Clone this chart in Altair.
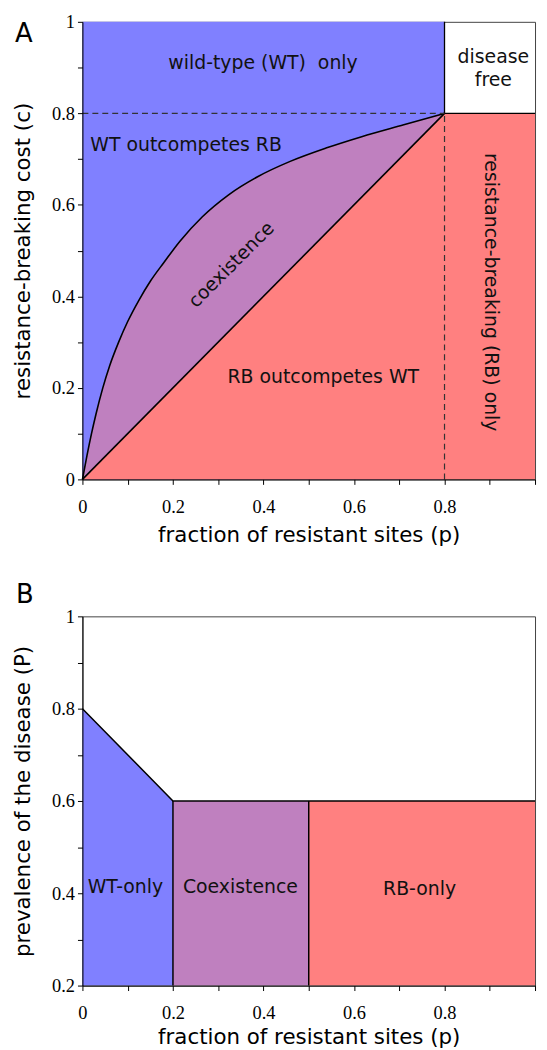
import altair as alt
import pandas as pd

# ---------------- Panel A data ----------------
curve_p = [0, 0.01, 0.02, 0.03, 0.045, 0.06, 0.08, 0.10, 0.125, 0.15, 0.18, 0.215,
           0.265, 0.323, 0.388, 0.459, 0.538, 0.617, 0.71, 0.8]
curve_c = [0, 0.052, 0.100, 0.143, 0.200, 0.248, 0.300, 0.345, 0.392, 0.433, 0.474, 0.520,
           0.574, 0.622, 0.662, 0.695, 0.724, 0.749, 0.775, 0.8]

wt_rect_p = [0.0, 0.8]
wt_rect_c = [0.0, 1.0]

red_p = [0.0, 0.8, 1.0]
red_c = [0.0, 0.8, 0.8]

diag_p = [0.0, 0.8]
diag_c = [0.0, 0.8]

free_p = [0.8, 0.8, 1.0]
free_c = [1.0, 0.8, 0.8]

dash_h_p = [0.0, 0.8]
dash_h_c = [0.8, 0.8]
dash_v_p = [0.8, 0.8]
dash_v_c = [0.0, 0.8]

labels_a = ["wild-type (WT)\u00a0 only", "disease\nfree", "WT outcompetes RB", "RB outcompetes WT"]
labels_a_p = [0.399, 0.908, 0.229, 0.532]
labels_a_c = [0.909, 0.924, 0.731, 0.224]

coex_label = ["coexistence"]
coex_label_p = [0.329]
coex_label_c = [0.469]

rb_label = ["resistance-breaking (RB) only"]
rb_label_p = [0.902]
rb_label_c = [0.409]

# ---------------- Panel B data ----------------
wtb_p = [0.0, 0.2]
wtb_P = [0.8, 0.6]
coexb_p = [0.2, 0.5]
coexb_P = [0.2, 0.6]
rbb_p = [0.5, 1.0]
rbb_P = [0.2, 0.6]
bound_p = [0.0, 0.2, 1.0]
bound_P = [0.8, 0.6, 0.6]
vlines_p = [0.2, 0.5]
vlines_P0 = [0.2, 0.2]
vlines_P1 = [0.6, 0.6]

labels_b = ["WT-only", "Coexistence", "RB-only"]
labels_b_p = [0.095, 0.349, 0.745]
labels_b_P = [0.413, 0.413, 0.41]

panel_letters = ["A", "B"]

ticks = [0.0, 0.1, 0.2, 0.3, 0.4, 0.5, 0.6, 0.7, 0.8, 0.9, 1.0]
ticks_b = [0.2, 0.3, 0.4, 0.5, 0.6, 0.7, 0.8, 0.9, 1.0]

BLUE = "#8080FF"
PURPLE = "#BF80BF"
RED = "#FF8080"
TXT = "DejaVu Sans"
TXT_SIZE = 19

y_label_expr = "round(datum.value*10) % 2 == 1 ? '' : format(datum.value, '~g')"
x_label_expr = "(round(datum.value*10) % 2 == 1 || datum.value >= 1) ? '' : format(datum.value, '~g')"

xaxis_a = alt.Axis(values=ticks, labelExpr=x_label_expr, title="fraction of resistant sites (p)",
                   labelPadding=13, titlePadding=9, zindex=1, labelFlush=False)
xaxis_b = alt.Axis(values=ticks, labelExpr=x_label_expr, title="fraction of resistant sites (p)",
                   labelPadding=13, titlePadding=5, zindex=1, labelFlush=False)
yaxis_a = alt.Axis(values=ticks, labelExpr=y_label_expr, title="resistance-breaking cost (c)",
                   labelPadding=3, titlePadding=17, zindex=1, labelFlush=False)
yaxis_b = alt.Axis(values=ticks_b, labelExpr=y_label_expr, title="prevalence of the disease (P)",
                   labelPadding=3, titlePadding=17, zindex=1, labelFlush=False)

xs = alt.Scale(domain=[0, 1], nice=False, zero=False)
ys_a = alt.Scale(domain=[0, 1], nice=False, zero=False)
ys_b = alt.Scale(domain=[0.2, 1], nice=False, zero=False)

W = 456
LEFT_EDGE = -73.6   # keeps a little room left of the rotated axis titles


def XA(f="p"):
    return alt.X(f, type="quantitative", scale=xs, axis=xaxis_a)


def XB(f="p"):
    return alt.X(f, type="quantitative", scale=xs, axis=xaxis_b)


def YA(f="c"):
    return alt.Y(f, type="quantitative", scale=ys_a, axis=yaxis_a)


def YB(f="P"):
    return alt.Y(f, type="quantitative", scale=ys_b, axis=yaxis_b)


def letter(i, dx, dy):
    df = pd.DataFrame({"t": [panel_letters[i]]})
    return alt.Chart(df).mark_text(font=TXT, fontSize=26, color="black", align="left",
                                   baseline="alphabetic").encode(
        text="t:N", x=alt.value(dx), y=alt.value(dy))


def spacer():
    return alt.Chart(pd.DataFrame({"t": [0]})).mark_rule(opacity=0, strokeWidth=0).encode(
        x=alt.value(LEFT_EDGE), y=alt.value(100), y2=alt.value(101))


# ---------------- Panel A ----------------
df_wt = pd.DataFrame({"p": [wt_rect_p[0]], "p2": [wt_rect_p[1]], "c": [wt_rect_c[0]], "c2": [wt_rect_c[1]]})
blue = alt.Chart(df_wt).mark_rect(color=BLUE).encode(x=XA(), x2="p2:Q", y=YA(), y2="c2:Q")

df_curve = pd.DataFrame({"p": curve_p, "c": curve_c, "base": [0.0] * len(curve_p)})
purple = alt.Chart(df_curve).mark_area(color=PURPLE, interpolate="monotone", opacity=1).encode(
    x=XA(), y=YA(), y2="base:Q")

df_red = pd.DataFrame({"p": red_p, "c": red_c, "base": [0.0] * len(red_p)})
red = alt.Chart(df_red).mark_area(color=RED, opacity=1).encode(x=XA(), y=YA(), y2="base:Q")

curve_line = alt.Chart(df_curve).mark_line(color="black", strokeWidth=1.6, interpolate="monotone").encode(
    x=XA(), y=YA())

df_diag = pd.DataFrame({"p": diag_p, "c": diag_c})
diag_line = alt.Chart(df_diag).mark_line(color="black", strokeWidth=1.6).encode(x=XA(), y=YA())

df_free = pd.DataFrame({"p": free_p, "c": free_c, "o": list(range(len(free_p)))})
free_line = alt.Chart(df_free).mark_line(color="black", strokeWidth=1.3).encode(
    x=XA(), y=YA(), order="o:Q")

df_dh = pd.DataFrame({"p": dash_h_p, "c": dash_h_c})
df_dv = pd.DataFrame({"p": dash_v_p, "c": dash_v_c})
dash_h = alt.Chart(df_dh).mark_line(color="#333333", strokeWidth=1.2, strokeDash=[6, 4]).encode(x=XA(), y=YA())
dash_v = alt.Chart(df_dv).mark_line(color="#333333", strokeWidth=1.2, strokeDash=[6, 4]).encode(x=XA(), y=YA())

df_la = pd.DataFrame({"p": labels_a_p, "c": labels_a_c, "t": labels_a})
text_a = alt.Chart(df_la).mark_text(font=TXT, fontSize=TXT_SIZE, color="#111111", lineBreak="\n",
                                    lineHeight=24, baseline="middle").encode(x=XA(), y=YA(), text="t:N")

df_coex = pd.DataFrame({"p": coex_label_p, "c": coex_label_c, "t": coex_label})
text_coex = alt.Chart(df_coex).mark_text(font=TXT, fontSize=TXT_SIZE, color="#111111", angle=315,
                                         baseline="middle").encode(x=XA(), y=YA(), text="t:N")

df_rb = pd.DataFrame({"p": rb_label_p, "c": rb_label_c, "t": rb_label})
text_rb = alt.Chart(df_rb).mark_text(font=TXT, fontSize=TXT_SIZE, color="#111111", angle=90,
                                     baseline="middle").encode(x=XA(), y=YA(), text="t:N")

panel_a = alt.layer(blue, purple, red, curve_line, diag_line, free_line, dash_h, dash_v,
                    text_a, text_coex, text_rb, letter(0, -68, 20), spacer()).properties(
    width=W, height=461)

# ---------------- Panel B ----------------
df_wtb = pd.DataFrame({"p": wtb_p, "P": wtb_P, "base": [0.2] * len(wtb_p)})
wtb = alt.Chart(df_wtb).mark_area(color=BLUE, opacity=1).encode(x=XB(), y=YB(), y2="base:Q")

df_coexb = pd.DataFrame({"p": [coexb_p[0]], "p2": [coexb_p[1]], "P": [coexb_P[0]], "P2": [coexb_P[1]]})
coexb = alt.Chart(df_coexb).mark_rect(color=PURPLE).encode(x=XB(), x2="p2:Q", y=YB(), y2="P2:Q")

df_rbb = pd.DataFrame({"p": [rbb_p[0]], "p2": [rbb_p[1]], "P": [rbb_P[0]], "P2": [rbb_P[1]]})
rbb = alt.Chart(df_rbb).mark_rect(color=RED).encode(x=XB(), x2="p2:Q", y=YB(), y2="P2:Q")

df_bound = pd.DataFrame({"p": bound_p, "P": bound_P})
bound = alt.Chart(df_bound).mark_line(color="black", strokeWidth=1.5).encode(x=XB(), y=YB())

df_vl = pd.DataFrame({"p": vlines_p, "P": vlines_P0, "P2": vlines_P1})
vl = alt.Chart(df_vl).mark_rule(color="black", strokeWidth=1.5).encode(x=XB(), y=YB(), y2="P2:Q")

df_lb = pd.DataFrame({"p": labels_b_p, "P": labels_b_P, "t": labels_b})
text_b = alt.Chart(df_lb).mark_text(font=TXT, fontSize=TXT_SIZE, color="#111111",
                                    baseline="middle").encode(x=XB(), y=YB(), text="t:N")

panel_b = alt.layer(wtb, coexb, rbb, bound, vl, text_b, letter(1, -67, -13), spacer()).properties(
    width=W, height=372)

chart = alt.vconcat(panel_a, panel_b, spacing=35).properties(
    padding={"left": 0, "top": 0, "right": 0, "bottom": 0}
).configure_view(stroke="#444444", strokeWidth=1).configure_axis(
    domainColor="black", tickColor="black", tickSize=5, grid=False,
    labelFont="Liberation Serif", labelFontSize=18.5, labelColor="black",
    titleFont=TXT, titleFontSize=21.5, titleFontWeight="normal", titleColor="black"
)

chart.save("out.html", embed_options={"renderer": "svg", "actions": False})
